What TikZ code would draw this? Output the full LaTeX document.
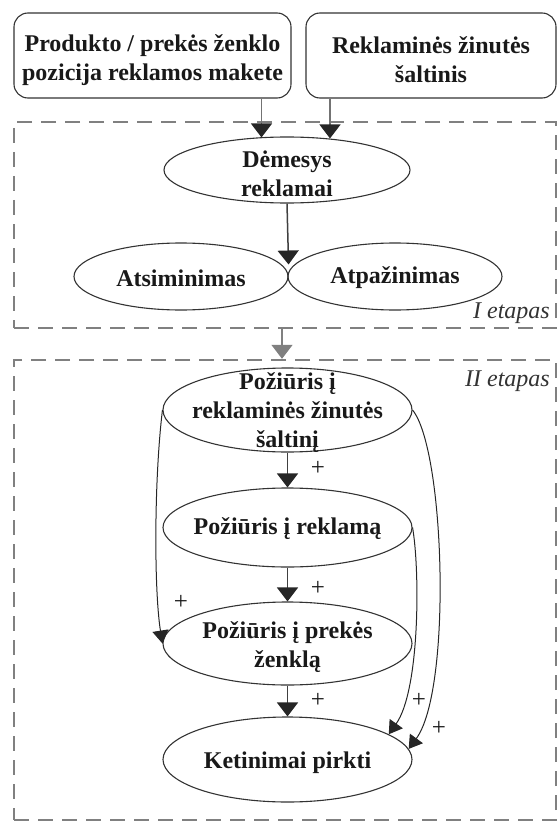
\documentclass[tikz,border=0pt]{standalone}
\usepackage{fontspec}
\setmainfont{Liberation Serif}
\usetikzlibrary{arrows.meta,shapes.geometric}
\begin{document}
\begin{tikzpicture}[x=1pt,y=-1pt]
\tikzset{
 txt/.style={font=\fontsize{24}{29}\selectfont\bfseries, text=black!90, align=center, inner sep=0},
 sbox/.style={draw=black!80, line width=1.1pt, rounded corners=14pt, inner sep=0},
 ell/.style={ellipse, draw=black!80, line width=1.1pt, inner sep=0},
 stage/.style={draw=black!50, line width=2.4pt, dash pattern=on 15pt off 9pt, inner sep=0},
 arr/.style={draw=black!75, line width=1.5pt, -{Triangle[width=21pt,length=14pt,color=black!85]}},
 garr/.style={draw=black!50, line width=1.5pt, -{Triangle[width=21pt,length=14pt]}},
 carr/.style={draw=black!85, line width=1pt, -{Triangle[width=16pt,length=13pt]}},
 plus/.style={font=\fontsize{25}{25}\selectfont, text=black!90, inner sep=0},
 etap/.style={font=\fontsize{24}{24}\selectfont\itshape, text=black!80, inner sep=0, anchor=base east}
}
\useasboundingbox (0,0) rectangle (557,821);
% top boxes
\node[sbox, minimum width=277pt, minimum height=85pt] (b1) at (152.5,55.5) {};
\node[txt] (b1t) at (152.5,60) {Produkto / prekės ženklo\\pozicija reklamos makete};
\node[sbox, minimum width=250pt, minimum height=85pt] (b2) at (431,55.5) {};
\node[txt] (b2t) at (431,60) {Reklaminės žinutės\\šaltinis};
% stages
\node[stage, minimum width=542pt, minimum height=206pt] (s1) at (285,225) {};
\node[stage, minimum width=542pt, minimum height=460pt] (s2) at (285,590) {};
\node[etap] (e1) at (550,318) {I etapas};
\node[etap] (e2) at (550,386) {II etapas};
% stage I
\node[ell, minimum width=246pt, minimum height=66pt] (dem) at (287,170) {};
\node[txt] (demt) at (287,174) {Dėmesys\\reklamai};
\node[ell, minimum width=214pt, minimum height=67pt] (atsi) at (181,276.5) {};
\node[txt] (atsit) at (181,278) {Atsiminimas};
\node[ell, minimum width=214pt, minimum height=67pt] (atpa) at (395,276.5) {};
\node[txt] (atpat) at (395,278) {Atpažinimas};
% stage II
\node[ell, minimum width=249pt, minimum height=84pt] (p1) at (287.5,410) {};
\node[txt] (p1t) at (287.5,413) {Požiūris į\\reklaminės žinutės\\šaltinį};
\node[ell, minimum width=249pt, minimum height=79pt] (p2) at (287.5,527.5) {};
\node[txt] (p2t) at (287.5,529) {Požiūris į reklamą};
\node[ell, minimum width=249pt, minimum height=83pt] (p3) at (287.5,643.5) {};
\node[txt] (p3t) at (287.5,647) {Požiūris į prekės\\ženklą};
\node[ell, minimum width=249pt, minimum height=85pt] (k) at (287.5,759.5) {};
\node[txt] (kt) at (287.5,763) {Ketinimai pirkti};
% arrows
\draw[arr, draw=black!55] ([xshift=-25.5pt]dem.north |- b1.south) -- ([xshift=-25.5pt,yshift=-1pt]dem.north);
\draw[arr, draw=black!55] ([xshift=43pt]dem.north |- b2.south) -- ([xshift=43pt,yshift=-2pt]dem.north);
\draw[arr] (dem.south) -- ([yshift=12pt]atsi.east);
\draw[garr] ([xshift=-3pt]s1.south) -- ([xshift=-3pt]s2.north);
\draw[arr] (p1.south) -- (p2.north);
\draw[arr] (p2.south) -- (p3.north);
\draw[arr] (p3.south) -- (k.north);
\draw[carr] (p1.west) .. controls (154,480) and (154,590) .. (p3.west);
\draw[carr] (p2.east) .. controls (420,570) and (420,690) .. (k.14);
\draw[carr] (p1.east) .. controls (445,450) and (452,690) .. (k.5);
% plus signs
\node[plus] (pl1) at (318,468) {+};
\node[plus] (pl2) at (318,588) {+};
\node[plus] (pl3) at (318,700) {+};
\node[plus] (pl4) at (181,602) {+};
\node[plus] (pl5) at (419,700) {+};
\node[plus] (pl6) at (439,728) {+};
\end{tikzpicture}
\end{document}
